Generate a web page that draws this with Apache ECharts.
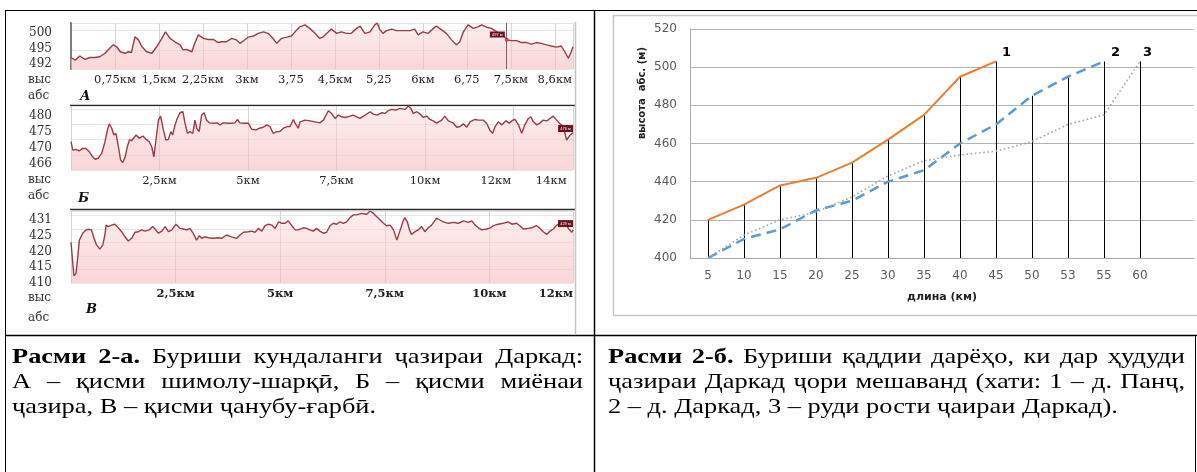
<!DOCTYPE html>
<html>
<head>
<meta charset="utf-8">
<title>Расми 2</title>
<script src="https://cdn.jsdelivr.net/npm/echarts@6/dist/echarts.min.js"></script>
<style>
  html, body { margin: 0; padding: 0; background: #fff; }
  #chart { width: 1197px; height: 472px; }
</style>
</head>
<body>
<div id="chart"></div>
<script>
// -----------------------------------------------------------------------------
// Data: elevation profiles [km, m]
// -----------------------------------------------------------------------------
const profileA = [
  [0, 493.0], [0.07, 492.3], [0.15, 493.4], [0.24, 492.5], [0.32, 493.0], [0.41, 493.0],
  [0.49, 493.2], [0.58, 494.1], [0.66, 495.4], [0.72, 496.3], [0.78, 495.8], [0.84, 494.5],
  [0.92, 494.1], [0.98, 494.5], [1.03, 494.3], [1.09, 498.4], [1.15, 497.6], [1.21, 495.8],
  [1.29, 494.5], [1.38, 494.1], [1.46, 495.8], [1.55, 498.0], [1.61, 499.7], [1.69, 498.0],
  [1.77, 497.1], [1.86, 496.3], [1.91, 495.0], [1.97, 495.1], [2.06, 494.5], [2.11, 496.7],
  [2.17, 498.9], [2.26, 498.0], [2.34, 497.7], [2.43, 497.7], [2.51, 496.9], [2.57, 497.1],
  [2.65, 497.1], [2.74, 498.0], [2.82, 497.6], [2.88, 496.7], [2.97, 497.7], [3.02, 498.3],
  [3.11, 498.6], [3.19, 499.3], [3.28, 499.7], [3.36, 499.3], [3.42, 498.4], [3.51, 496.7],
  [3.59, 498.0], [3.68, 498.3], [3.76, 498.6], [3.85, 500.2], [3.90, 501.0], [3.99, 501.5],
  [4.07, 500.6], [4.16, 499.3], [4.24, 498.0], [4.30, 498.4], [4.39, 499.7], [4.44, 500.4],
  [4.53, 499.3], [4.61, 499.7], [4.70, 499.3], [4.78, 499.3], [4.87, 500.6], [4.93, 501.2],
  [5.01, 499.3], [5.10, 499.7], [5.18, 501.5], [5.22, 502.0], [5.27, 500.2], [5.32, 499.3],
  [5.38, 500.0], [5.47, 500.4], [5.55, 500.0], [5.66, 500.0], [5.78, 500.0], [5.86, 500.4],
  [5.92, 498.9], [6.00, 499.7], [6.09, 499.3], [6.18, 500.6], [6.23, 501.2], [6.32, 500.2],
  [6.40, 499.3], [6.49, 497.6], [6.57, 496.3], [6.63, 497.1], [6.69, 499.7], [6.77, 501.5],
  [6.86, 500.6], [6.94, 501.0], [7.00, 501.5], [7.09, 500.9], [7.17, 500.6], [7.26, 499.7],
  [7.37, 498.9], [7.43, 497.6], [7.51, 497.4], [7.60, 497.4], [7.68, 496.9], [7.77, 496.9],
  [7.85, 496.5], [7.94, 496.9], [8.02, 496.7], [8.11, 496.3], [8.19, 496.0], [8.28, 495.7],
  [8.36, 496.0], [8.42, 494.5], [8.48, 492.8], [8.53, 494.5], [8.56, 495.8]
];

const profileB = [
  [0, 471.9], [0.05, 469.4], [0.14, 469.6], [0.23, 469.2], [0.33, 469.9], [0.42, 469.9],
  [0.52, 468.9], [0.61, 467.4], [0.68, 466.7], [0.77, 467.0], [0.87, 468.5], [0.96, 471.9],
  [1.03, 475.4], [1.08, 477.2], [1.15, 475.9], [1.21, 473.9], [1.27, 474.4], [1.34, 470.4],
  [1.40, 466.5], [1.46, 465.7], [1.53, 467.4], [1.59, 470.4], [1.65, 472.4], [1.71, 472.2],
  [1.76, 471.9], [1.84, 473.9], [1.93, 472.9], [2.03, 473.6], [2.12, 472.6], [2.21, 471.9],
  [2.28, 470.4], [2.34, 467.4], [2.40, 472.4], [2.47, 478.3], [2.53, 479.5], [2.61, 475.4],
  [2.68, 472.4], [2.75, 472.6], [2.82, 474.9], [2.87, 473.9], [2.94, 476.9], [3.00, 478.8],
  [3.08, 480.5], [3.16, 480.8], [3.22, 477.4], [3.29, 474.4], [3.36, 474.9], [3.44, 474.4],
  [3.50, 478.3], [3.55, 475.9], [3.62, 474.9], [3.69, 479.8], [3.76, 480.5], [3.83, 478.3],
  [3.91, 477.5], [4.02, 477.4], [4.13, 477.5], [4.21, 476.9], [4.30, 477.5], [4.40, 477.4],
  [4.54, 477.4], [4.63, 477.5], [4.70, 478.5], [4.77, 477.5], [4.87, 477.4], [5.01, 477.4],
  [5.10, 475.6], [5.23, 475.4], [5.32, 475.9], [5.43, 476.2], [5.53, 476.9], [5.62, 476.4],
  [5.71, 474.4], [5.81, 474.9], [5.90, 474.9], [6.00, 475.9], [6.11, 476.4], [6.19, 476.4],
  [6.28, 478.5], [6.33, 477.4], [6.42, 475.9], [6.47, 477.8], [6.61, 478.3], [6.75, 478.1],
  [6.89, 477.8], [7.03, 477.5], [7.13, 478.3], [7.27, 481.1], [7.36, 480.3], [7.46, 478.8],
  [7.55, 479.8], [7.65, 479.3], [7.74, 479.1], [7.88, 479.5], [7.97, 479.8], [8.07, 479.3],
  [8.16, 478.8], [8.31, 479.8], [8.45, 480.8], [8.54, 480.1], [8.65, 479.8], [8.78, 480.5],
  [8.87, 480.3], [8.96, 481.1], [9.06, 481.5], [9.18, 481.3], [9.29, 481.8], [9.44, 481.5],
  [9.53, 482.5], [9.60, 481.8], [9.67, 480.3], [9.77, 480.8], [9.86, 480.1], [9.95, 479.1],
  [10.05, 479.5], [10.14, 478.5], [10.23, 478.1], [10.33, 477.4], [10.47, 478.3], [10.56, 479.5],
  [10.66, 478.1], [10.80, 477.4], [10.90, 476.2], [10.99, 476.4], [11.08, 477.2], [11.18, 476.2],
  [11.27, 477.8], [11.41, 478.5], [11.51, 478.3], [11.65, 478.3], [11.74, 477.4], [11.84, 475.2],
  [11.91, 474.4], [11.98, 476.4], [12.07, 477.8], [12.17, 476.9], [12.29, 478.1], [12.38, 477.4],
  [12.48, 478.3], [12.54, 478.5], [12.64, 476.9], [12.73, 474.4], [12.82, 476.9], [12.92, 478.8],
  [12.99, 479.3], [13.06, 477.8], [13.16, 476.9], [13.25, 477.5], [13.34, 478.3], [13.44, 478.1],
  [13.53, 478.8], [13.62, 479.5], [13.72, 478.3], [13.81, 477.2], [13.90, 476.6], [14.00, 472.4],
  [14.10, 473.9], [14.18, 474.6]
];

const profileV = [
  [0, 423.1], [0.04, 416.6], [0.07, 411.9], [0.12, 412.7], [0.15, 416.6], [0.20, 423.8],
  [0.28, 426.1], [0.36, 427.2], [0.44, 427.4], [0.49, 427.2], [0.55, 424.4], [0.61, 422.2],
  [0.69, 420.8], [0.76, 422.2], [0.81, 425.5], [0.84, 428.8], [0.89, 428.3], [0.97, 428.8],
  [1.05, 429.1], [1.13, 427.9], [1.21, 426.6], [1.29, 424.9], [1.37, 423.5], [1.45, 424.4],
  [1.53, 426.4], [1.61, 426.6], [1.69, 427.2], [1.77, 426.8], [1.87, 427.2], [1.95, 428.3],
  [2.01, 427.5], [2.09, 426.1], [2.17, 426.8], [2.25, 428.3], [2.33, 426.6], [2.41, 427.2],
  [2.51, 429.1], [2.61, 427.7], [2.68, 427.5], [2.77, 427.2], [2.84, 427.7], [2.92, 426.1],
  [3.00, 423.8], [3.07, 425.3], [3.12, 424.4], [3.20, 424.9], [3.28, 424.6], [3.40, 424.4],
  [3.52, 424.6], [3.60, 424.4], [3.72, 425.5], [3.84, 424.9], [3.96, 424.4], [4.04, 425.5],
  [4.12, 426.4], [4.24, 426.6], [4.32, 426.8], [4.40, 426.4], [4.48, 427.7], [4.56, 426.8],
  [4.64, 428.6], [4.72, 429.1], [4.80, 428.8], [4.88, 427.7], [4.96, 429.9], [5.04, 429.4],
  [5.12, 429.4], [5.19, 430.2], [5.28, 428.6], [5.36, 427.2], [5.43, 427.2], [5.47, 427.2],
  [5.55, 427.9], [5.63, 427.7], [5.71, 427.2], [5.79, 426.8], [5.87, 427.7], [5.95, 426.8],
  [6.03, 426.1], [6.11, 426.4], [6.19, 428.6], [6.27, 429.4], [6.35, 429.1], [6.43, 429.9],
  [6.51, 429.4], [6.59, 429.9], [6.67, 431.3], [6.75, 432.2], [6.83, 432.2], [6.95, 432.7],
  [7.07, 432.4], [7.15, 433.5], [7.23, 432.7], [7.31, 431.6], [7.39, 430.5], [7.47, 429.4],
  [7.54, 428.6], [7.63, 428.8], [7.71, 427.2], [7.79, 423.8], [7.87, 427.2], [7.94, 430.2],
  [7.98, 431.3], [8.04, 429.9], [8.09, 427.2], [8.14, 425.7], [8.22, 426.6], [8.30, 427.2],
  [8.38, 428.3], [8.46, 426.6], [8.54, 427.9], [8.62, 428.8], [8.74, 431.1], [8.82, 430.5],
  [8.90, 429.9], [9.02, 429.4], [9.14, 429.7], [9.26, 429.4], [9.38, 430.2], [9.50, 429.7],
  [9.58, 430.2], [9.66, 428.8], [9.74, 427.9], [9.82, 427.2], [9.94, 427.5], [10.02, 427.9],
  [10.10, 428.6], [10.21, 429.1], [10.33, 429.4], [10.45, 429.9], [10.54, 429.1], [10.65, 429.4],
  [10.73, 428.6], [10.81, 427.5], [10.93, 427.7], [11.01, 427.9], [11.13, 428.6], [11.21, 427.7],
  [11.29, 426.6], [11.37, 425.7], [11.45, 426.8], [11.53, 427.5], [11.61, 428.8], [11.69, 429.4],
  [11.81, 429.4], [11.89, 427.7], [11.97, 426.4], [12.00, 427.2]
];

// tick labels of the profiles (as typed in the picture)
const aTickKm = [0.75, 1.5, 2.25, 3, 3.75, 4.5, 5.25, 6, 6.75, 7.5, 8.25];
const aTickLabels = ["0,75км", "1,5км", "2,25км", "3км", "3,75", "4,5км", "5,25", "6км", "6,75", "7,5км", "8,6км"];
const bTickKm = [2.5, 5, 7.5, 10, 12, 14];
const bTickLabels = ["2,5км", "5км", "7,5км", "10км", "12км", "14км"];
const vTickKm = [2.5, 5, 7.5, 10, 12];
const vTickLabels = ["2,5км", "5км", "7,5км", "10км", "12км"];
// height labels are typed evenly down the side, bottom to top
const aElevLabels = ["492", "495", "500"];
const bElevLabels = ["466", "470", "475", "480"];
const vElevLabels = ["410", "415", "420", "425", "431"];

// cursor / badges of the profile tool [km, m]
const cursorA = [7.43, 497.6];
const badgeA = [7.27, 499.0];
const badgeB = [13.97, 475.8];
const badgeV = [11.82, 429.3];

// longitudinal profile of the rivers (right chart)
const lengthCats = ["5", "10", "15", "20", "25", "30", "35", "40", "45", "50", "53", "55", "60", ""]; // last slot empty in source
const pyanj = [420, 428, 438, 442, 450, 462, 475, 495, 503];
const darkad = [400, 410, 415, 425, 430, 440, 446, 460, 470, 485, 495, 503];
const tributary = [400, 412, 420, 424, 432, 443, 451, 454, 456, 461, 470, 475, 503];

// -----------------------------------------------------------------------------
// Helpers
// -----------------------------------------------------------------------------
const SERIF = '"DejaVu Serif", serif';
const SANS = '"DejaVu Sans", sans-serif';
const CAP_FONT = '"Liberation Serif", "DejaVu Serif", serif';
const CAP_SIZE = 22;
const CAP_SCALE = 1.2; // the scanned page is stretched sideways

const profileX = (gridIndex, max, interval, tickKm, tickLabels, bold, alignMax) => ({
  type: "value",
  gridIndex,
  min: 0,
  max,
  interval,
  axisLine: { show: false },
  axisTick: { show: false },
  splitLine: { show: true, lineStyle: { color: "#d4d4d4", width: 1 } },
  axisLabel: {
    customValues: tickKm,
    margin: 5,
    color: "#222",
    fontFamily: SERIF,
    fontSize: 11.5,
    fontWeight: bold ? "bold" : "normal",
    alignMaxLabel: alignMax || null,
    formatter: (v) => {
      const i = tickKm.findIndex((t) => Math.abs(t - v) < 1e-6);
      return i < 0 ? "" : tickLabels[i];
    },
  },
});

const profileY = (gridIndex, min, max, interval, edge) => ({
  type: "value",
  gridIndex,
  min,
  max,
  interval,
  axisLine: edge
    ? { show: true, lineStyle: { color: "#7d7d7d", width: 2 } }
    : { show: false },
  axisTick: { show: false },
  splitLine: { show: true, lineStyle: { color: "#e6e6e6" } },
  axisLabel: { show: false },
});

// side grid that only carries the typed height labels
const labelGrid = (top, height) => ({ left: 71, top, width: 1, height, containLabel: false });
const labelX = (gridIndex) => ({ type: "value", gridIndex, show: false });
const labelY = (gridIndex, labels) => ({
  type: "category",
  gridIndex,
  data: labels,
  boundaryGap: true,
  axisLine: { show: false },
  axisTick: { show: false },
  splitLine: { show: false },
  axisLabel: { interval: 0, margin: 19, color: "#333", fontFamily: SERIF, fontSize: 12 },
});

const badge = (coord, text, h) => ({
  coord,
  symbol: "rect",
  symbolSize: [15, h],
  itemStyle: { color: "#6b1420" },
  label: { show: true, position: "inside", formatter: text, fontSize: 4, color: "#fff" },
});

const profileSeries = (idx, data, extra) =>
  Object.assign(
    {
      type: "line",
      xAxisIndex: idx,
      yAxisIndex: idx,
      data,
      symbol: "none",
      showSymbol: false,
      silent: true,
      lineStyle: { color: "#9e3a46", width: 1.4 },
      areaStyle: {
        origin: "start",
        color: new echarts.graphic.LinearGradient(0, 0, 0, 1, [
          { offset: 0, color: "rgba(252,225,225,0.8)" },
          { offset: 1, color: "rgba(246,182,185,0.8)" },
        ]),
      },
      z: 3,
    },
    extra,
  );

const lineEl = (x1, y1, x2, y2, color, width) => ({
  type: "line",
  silent: true,
  shape: { x1, y1, x2, y2 },
  style: { stroke: color, lineWidth: width },
});

const textEl = (x, y, text, style) => ({
  type: "text",
  x,
  y,
  silent: true,
  style: Object.assign({ text, fill: "#333", fontFamily: SERIF, fontSize: 12, verticalAlign: "middle" }, style),
});

// caption lines, word by word so lines can be justified like the source
const measureCtx = document.createElement("canvas").getContext("2d");
const captionLine = (parts, x0, x1, y, justify) => {
  const words = [];
  parts.forEach((p) =>
    p.t.split(" ").forEach((w) => {
      if (w) words.push({ w, bold: !!p.b });
    }),
  );
  words.forEach((o) => {
    measureCtx.font = (o.bold ? "bold " : "") + CAP_SIZE + "px " + CAP_FONT;
    o.width = measureCtx.measureText(o.w).width * CAP_SCALE;
  });
  measureCtx.font = CAP_SIZE + "px " + CAP_FONT;
  const space = measureCtx.measureText(" ").width * CAP_SCALE;
  const total = words.reduce((s, o) => s + o.width, 0);
  const gap = justify && words.length > 1 ? (x1 - x0 - total) / (words.length - 1) : space;
  let x = x0;
  return words.map((o) => {
    const el = textEl(x, y, o.w, {
      fill: "#000",
      fontFamily: CAP_FONT,
      fontSize: CAP_SIZE,
      fontWeight: o.bold ? "bold" : "normal",
    });
    el.scaleX = CAP_SCALE;
    x += o.width + gap;
    return el;
  });
};

// drop lines go from the highest river at each km mark down to the axis
const dropTops = lengthCats
  .map((c, i) => [i, Math.max(...[pyanj[i], darkad[i], tributary[i]].filter((v) => v !== undefined))])
  .filter((d) => isFinite(d[1]));

// -----------------------------------------------------------------------------
// Chart
// -----------------------------------------------------------------------------
const chart = echarts.init(document.getElementById("chart"), null, { renderer: "canvas" });

const graphics = [
  // table borders
  lineEl(5, 10.5, 1197, 10.5, "#000", 1),
  lineEl(5.5, 10, 5.5, 472, "#000", 1),
  lineEl(594.5, 10, 594.5, 472, "#000", 1.5),
  lineEl(5, 335.5, 1197, 335.5, "#000", 1.5),
  lineEl(1195.5, 335, 1195.5, 472, "#000", 1),
  // left picture frame lines
  lineEl(70, 105.5, 575, 105.5, "#2b2b2b", 1.5),
  lineEl(70, 209.5, 575, 209.5, "#2b2b2b", 1.5),
  lineEl(575.5, 22, 575.5, 335, "#c4c4c4", 1.5),
  // right chart frame
  {
    type: "rect",
    silent: true,
    shape: { x: 613.5, y: 15.5, width: 700, height: 300 },
    style: { fill: null, stroke: "#c6c6c6", lineWidth: 1.5 },
  },
  // profile side notes
  textEl(28, 80, "выс"),
  textEl(28, 96, "абс"),
  textEl(80, 97, "А", { fontWeight: "bold", fontStyle: "italic", fontSize: 13, fill: "#111" }),
  textEl(28, 180, "выс"),
  textEl(28, 196, "абс"),
  textEl(78, 199, "Б", { fontWeight: "bold", fontStyle: "italic", fontSize: 13, fill: "#111" }),
  textEl(28, 298, "выс"),
  textEl(28, 318, "абс"),
  textEl(86, 310, "В", { fontWeight: "bold", fontStyle: "italic", fontSize: 13, fill: "#111" }),
  // y axis name of the right chart
  {
    type: "text",
    x: 642,
    y: 93,
    rotation: Math.PI / 2,
    silent: true,
    style: {
      text: "высота  абс. (м)",
      fill: "#1f1f1f",
      fontFamily: SANS,
      fontWeight: "bold",
      fontSize: 10,
      align: "center",
      verticalAlign: "middle",
    },
  },
  // captions
  ...captionLine([{ t: "Расми 2-а.", b: true }, { t: "Буриши кундаланги ҷазираи Даркад:" }], 12, 583, 357, true),
  ...captionLine([{ t: "А – қисми шимолу-шарқӣ, Б – қисми миёнаи" }], 12, 583, 382, true),
  ...captionLine([{ t: "ҷазира, В – қисми ҷанубу-ғарбӣ." }], 12, 583, 407, false),
  ...captionLine([{ t: "Расми 2-б.", b: true }, { t: "Буриши қаддии дарёҳо, ки дар ҳудуди" }], 608, 1185, 357, true),
  ...captionLine([{ t: "ҷазираи Даркад ҷори мешаванд (хати: 1 – д. Панҷ," }], 608, 1185, 382, true),
  ...captionLine([{ t: "2 – д. Даркад, 3 – руди рости ҷаираи Даркад)." }], 608, 1185, 407, false),
];

const endLabel = (text, dx) => ({
  show: true,
  formatter: text,
  distance: dx,
  offset: [0, -9],
  color: "#000",
  fontFamily: SANS,
  fontWeight: "bold",
  fontSize: 13,
});

const option = {
  animation: false,
  backgroundColor: "#fff",
  grid: [
    { left: 71, top: 23, width: 502, height: 46, containLabel: false },
    { left: 71, top: 106, width: 502, height: 64, containLabel: false },
    { left: 71, top: 211, width: 502, height: 72, containLabel: false },
    { left: 690, top: 29, width: 504, height: 229, containLabel: false },
    labelGrid(25, 47),
    labelGrid(107.5, 64),
    labelGrid(212, 79),
  ],
  xAxis: [
    profileX(0, 8.56, 0.75, aTickKm, aTickLabels, false, null),
    profileX(1, 14.18, 2.5, bTickKm, bTickLabels, false, "right"),
    profileX(2, 12, 2.5, vTickKm, vTickLabels, true, "right"),
    {
      type: "category",
      gridIndex: 3,
      data: lengthCats,
      boundaryGap: true,
      axisTick: { show: false },
      axisLine: { show: true, lineStyle: { color: "#ababab", width: 1 } },
      axisLabel: { color: "#595959", fontFamily: SANS, fontSize: 12, margin: 12 },
      name: "длина (км)",
      nameLocation: "middle",
      nameGap: 34,
      nameTextStyle: { color: "#1f1f1f", fontFamily: SANS, fontWeight: "bold", fontSize: 11 },
    },
    labelX(4),
    labelX(5),
    labelX(6),
  ],
  yAxis: [
    profileY(0, 490, 502, 5, true),
    profileY(1, 463.5, 482.5, 4.5, false),
    profileY(2, 409.5, 433.5, 4.5, false),
    {
      type: "value",
      gridIndex: 3,
      min: 400,
      max: 520,
      interval: 20,
      axisLine: { show: true, lineStyle: { color: "#ababab", width: 1 } },
      axisTick: { show: false },
      splitLine: { show: true, lineStyle: { color: "#b3b3b3", width: 1 } },
      axisLabel: { color: "#595959", fontFamily: SANS, fontSize: 12, margin: 13 },
    },
    labelY(4, aElevLabels),
    labelY(5, bElevLabels),
    labelY(6, vElevLabels),
  ],
  graphic: { elements: graphics },
  series: [
    profileSeries(0, profileA, {
      markLine: {
        silent: true,
        symbol: ["none", "none"],
        label: { show: false },
        lineStyle: { color: "#7b6262", width: 1, type: "solid" },
        data: [{ xAxis: cursorA[0] }],
      },
      markPoint: {
        silent: true,
        data: [
          { coord: cursorA, symbol: "circle", symbolSize: 4, itemStyle: { color: "#e03a3a" }, label: { show: false } },
          badge(badgeA, "497 м", 6),
        ],
      },
    }),
    profileSeries(1, profileB, { markPoint: { silent: true, data: [badge(badgeB, "476 м", 7)] } }),
    profileSeries(2, profileV, { markPoint: { silent: true, data: [badge(badgeV, "429 м", 7)] } }),
    {
      type: "custom",
      xAxisIndex: 3,
      yAxisIndex: 3,
      data: dropTops,
      encode: { x: 0, y: 1 },
      silent: true,
      z: 1,
      renderItem: (params, api) => {
        const top = api.coord([api.value(0), api.value(1)]);
        const bottom = api.coord([api.value(0), 400]);
        const x = Math.round(top[0]) + 0.5;
        return {
          type: "line",
          shape: { x1: x, y1: top[1], x2: x, y2: bottom[1] },
          style: { stroke: "#000", lineWidth: 1 },
        };
      },
    },
    {
      name: "1",
      type: "line",
      xAxisIndex: 3,
      yAxisIndex: 3,
      data: pyanj,
      symbol: "none",
      lineStyle: { color: "#ed7d31", width: 2 },
      endLabel: endLabel("1", 6),
      z: 3,
    },
    {
      name: "2",
      type: "line",
      xAxisIndex: 3,
      yAxisIndex: 3,
      data: darkad,
      symbol: "none",
      lineStyle: { color: "#5b9bd5", width: 2.5, type: [10, 6] },
      endLabel: endLabel("2", 7),
      z: 3,
    },
    {
      name: "3",
      type: "line",
      xAxisIndex: 3,
      yAxisIndex: 3,
      data: tributary,
      symbol: "none",
      lineStyle: { color: "#a5a5a5", width: 1.6, type: [1.6, 2.6] },
      endLabel: endLabel("3", 3),
      z: 3,
    },
  ],
};

chart.setOption(option);
</script>
</body>
</html>
